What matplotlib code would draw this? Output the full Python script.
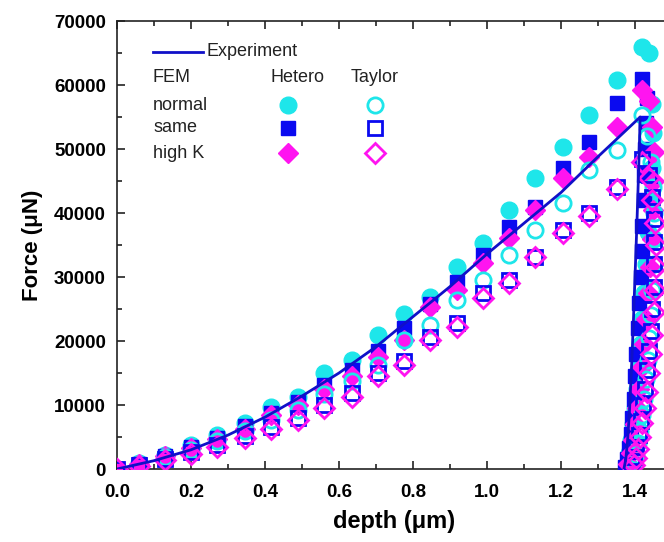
import numpy as np
import matplotlib
matplotlib.use('Agg')
import matplotlib.pyplot as plt
from matplotlib.ticker import MultipleLocator

plt.rcParams['font.family'] = ['Liberation Sans', 'DejaVu Sans']

# ---- data ----
# loading steps (shared by all FEM series)
depth_load = [0.0, 0.06, 0.13, 0.20, 0.27, 0.345, 0.415, 0.49, 0.56, 0.635, 0.705,
              0.775, 0.845, 0.92, 0.99, 1.06, 1.13, 1.205, 1.275, 1.35, 1.42]

normal_hetero_load = [0, 900, 2200, 3700, 5300, 7200, 9700, 11300, 15000, 17000, 20900,
                      24200, 26900, 31600, 35300, 40500, 45500, 50300, 55300, 60800, 66000]
same_hetero_load = [0, 800, 2000, 3400, 4900, 6700, 8800, 10500, 13200, 15500, 18500,
                    22000, 25800, 29200, 33400, 37800, 40900, 47000, 51100, 57200, 61000]
highk_hetero_load = [0, 800, 2000, 3300, 4700, 6300, 8500, 10000, 12500, 14500, 17500,
                     20200, 25300, 28000, 32200, 36100, 40500, 45500, 48700, 53400, 59200]
normal_taylor_load = [0, 700, 1800, 3000, 4300, 5900, 7600, 9200, 11700, 13700, 16300,
                      20200, 22500, 26400, 29500, 33400, 37300, 41600, 46700, 49800, 55300]
same_taylor_load = [0, 600, 1500, 2600, 3700, 5200, 6500, 8000, 10000, 11800, 15000,
                    16800, 20600, 22800, 27500, 29500, 33100, 37300, 40000, 44000, 48500]
highk_taylor_load = [0, 500, 1400, 2400, 3500, 4900, 6200, 7600, 9500, 11300, 14500,
                     16300, 20200, 22200, 26700, 29000, 33100, 36900, 39500, 43800, 48000]

# unloading branches
normal_hetero_ud = [1.438, 1.447, 1.449, 1.445, 1.440, 1.435, 1.430, 1.425, 1.420, 1.415,
                    1.410, 1.405, 1.400, 1.395, 1.390, 1.385, 1.380]
normal_hetero_uf = [65000, 57000, 52500, 47000, 42000, 37000, 32000, 27500, 23500, 19500,
                    16000, 12500, 9500, 7000, 4500, 2500, 800]
same_hetero_ud = [1.432, 1.430, 1.428, 1.425, 1.423, 1.420, 1.418, 1.415, 1.412, 1.408,
                  1.404, 1.400, 1.396, 1.392, 1.388, 1.383, 1.378, 1.373]
same_hetero_uf = [58000, 54000, 50000, 46000, 42000, 38000, 34000, 30000, 26000, 22000,
                  18000, 14500, 11000, 8000, 5500, 3300, 1500, 300]
highk_hetero_ud = [1.438, 1.447, 1.450, 1.452, 1.449, 1.445, 1.440, 1.435, 1.430, 1.424,
                   1.418, 1.412, 1.406, 1.400, 1.394, 1.388, 1.382]
highk_hetero_uf = [57500, 53500, 49500, 45000, 40500, 36000, 31500, 27500, 23500, 19500,
                   16000, 12500, 9500, 7000, 4500, 2500, 800]
normal_taylor_ud = [1.432, 1.442, 1.448, 1.452, 1.452, 1.450, 1.447, 1.443, 1.439, 1.435,
                    1.430, 1.425, 1.420, 1.414, 1.408, 1.402, 1.396]
normal_taylor_uf = [52000, 48000, 44000, 40000, 36000, 32000, 28000, 24000, 20500, 17000,
                    14000, 11000, 8500, 6000, 4000, 2200, 800]
same_taylor_ud = [1.437, 1.445, 1.450, 1.452, 1.452, 1.450, 1.447, 1.443, 1.438, 1.433,
                  1.428, 1.422, 1.416, 1.410, 1.404, 1.398, 1.392]
same_taylor_uf = [46000, 42500, 39000, 35500, 32000, 28500, 25000, 21500, 18500, 15500,
                  12500, 10000, 7500, 5300, 3500, 1900, 700]
highk_taylor_ud = [1.438, 1.447, 1.453, 1.456, 1.456, 1.454, 1.451, 1.447, 1.442, 1.437,
                   1.432, 1.426, 1.420, 1.414, 1.408, 1.402, 1.396]
highk_taylor_uf = [45500, 42000, 38500, 35000, 31500, 28000, 24500, 21000, 18000, 15000,
                   12000, 9500, 7200, 5000, 3200, 1700, 600]

# experiment curve
exp_depth = [0.0, 0.1, 0.2, 0.3, 0.4, 0.5, 0.6, 0.7, 0.8, 0.9, 1.0, 1.1, 1.2, 1.3, 1.414,
             1.41, 1.405, 1.40, 1.395, 1.39, 1.385, 1.38, 1.375, 1.37]
exp_force = [0, 1300, 3000, 5300, 8100, 11400, 15000, 19100, 23800, 28500, 33600, 38400,
             43200, 48800, 55000, 47000, 38000, 30000, 22000, 15000, 9000, 4500, 1500, 0]

CYAN = '#1EE6EA'
BLUE = '#0A0AF0'
MAG = '#FF14F0'
LINE = '#1010C8'

fig = plt.figure(figsize=(6.64, 5.42), dpi=100)
ax = fig.add_axes([117 / 664, 73 / 542, 555 / 664, 448 / 542])

series = [
    (depth_load, normal_hetero_load, normal_hetero_ud, normal_hetero_uf, 'o', CYAN, True, 12),
    (depth_load, same_hetero_load, same_hetero_ud, same_hetero_uf, 's', BLUE, True, 10.5),
    (depth_load, highk_hetero_load, highk_hetero_ud, highk_hetero_uf, 'D', MAG, True, 10.5),
    (depth_load, normal_taylor_load, normal_taylor_ud, normal_taylor_uf, 'o', CYAN, False, 11),
    (depth_load, same_taylor_load, same_taylor_ud, same_taylor_uf, 's', BLUE, False, 9.5),
    (depth_load, highk_taylor_load, highk_taylor_ud, highk_taylor_uf, 'D', MAG, False, 10),
]

for d, f, ud, uf, mk, col, filled, ms in series:
    xs = list(d) + list(ud)
    ys = list(f) + list(uf)
    if filled:
        ax.plot(xs, ys, ls='none', marker=mk, ms=ms, mfc=col, mec=col, mew=1, zorder=3)
    else:
        ax.plot(xs, ys, ls='none', marker=mk, ms=ms, mfc='none', mec=col, mew=2, zorder=3)

ax.plot(exp_depth, exp_force, color=LINE, lw=2, zorder=4)

ax.set_xlim(0, 1.5)
ax.set_ylim(0, 70000)
ax.xaxis.set_major_locator(MultipleLocator(0.2))
ax.xaxis.set_minor_locator(MultipleLocator(0.1))
ax.yaxis.set_major_locator(MultipleLocator(10000))
ax.yaxis.set_minor_locator(MultipleLocator(5000))
ax.xaxis.set_major_formatter(plt.FuncFormatter(lambda v, p: f'{v:.1f}'))
ax.tick_params(which='both', direction='in', top=True, right=False, width=1.2, color='#222222')
ax.tick_params(which='major', length=6, labelsize=13.5)
ax.tick_params(axis='x', which='major', pad=11)
ax.tick_params(axis='y', which='major', pad=8)
ax.tick_params(which='minor', length=3.5)
for lab in ax.get_xticklabels() + ax.get_yticklabels():
    lab.set_fontweight('bold')
for s in ax.spines.values():
    s.set_linewidth(1.2)
    s.set_color('#222222')
ax.spines['right'].set_visible(False)

ax.set_xlabel('depth (μm)', fontsize=17, fontweight='bold', labelpad=6)
ax.set_ylabel('Force (μN)', fontsize=16, fontweight='bold', labelpad=8)

# legend drawn by hand in axes coordinates
T = ax.transAxes
def ax_xy(px, py):
    return ((px - 117) / 555, (469 - py) / 448)

x0, y0 = ax_xy(153, 52)
x1, _ = ax_xy(203, 52)
ax.plot([x0, x1], [y0, y0], color=LINE, lw=2, transform=T, clip_on=False)
ax.text(*ax_xy(206, 52), 'Experiment', transform=T, fontsize=13, va='center', ha='left', color='#222222')
ax.text(*ax_xy(153, 78), 'FEM', transform=T, fontsize=13, va='center', ha='left', color='#222222')
ax.text(*ax_xy(297, 78), 'Hetero', transform=T, fontsize=13, va='center', ha='center', color='#222222')
ax.text(*ax_xy(375, 78), 'Taylor', transform=T, fontsize=13, va='center', ha='center', color='#222222')
rows = [('normal', 'o', CYAN, 105, 12, 11), ('same', 's', BLUE, 128, 10.5, 9.5),
        ('high K', 'D', MAG, 153, 10.5, 10)]
for name, mk, col, py, msf, mso in rows:
    ax.text(*ax_xy(153, py), name, transform=T, fontsize=13, va='center', ha='left', color='#222222')
    ax.plot(*ax_xy(288, py), marker=mk, ms=msf, mfc=col, mec=col, transform=T, ls='none')
    ax.plot(*ax_xy(375, py), marker=mk, ms=mso, mfc='none', mec=col, mew=2, transform=T, ls='none')

fig.savefig('out.png', dpi=100)
